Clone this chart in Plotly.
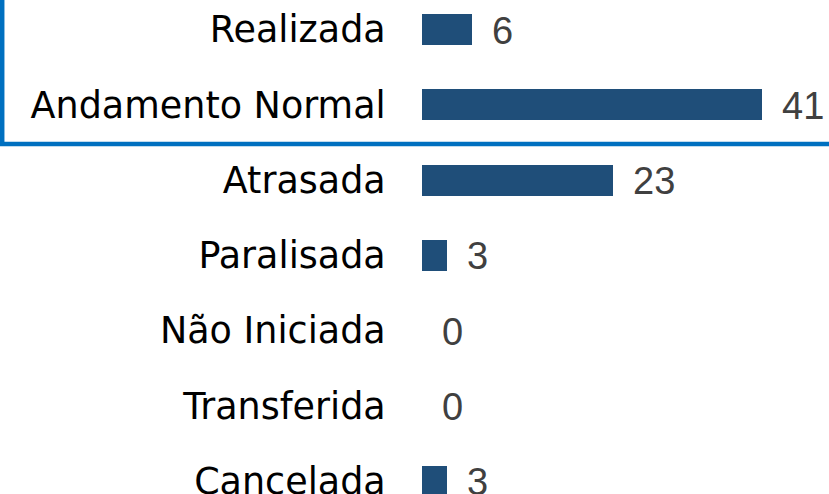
import plotly.graph_objects as go

categories = ["Realizada", "Andamento Normal", "Atrasada", "Paralisada",
              "Não Iniciada", "Transferida", "Cancelada"]
values = [6, 41, 23, 3, 0, 0, 3]

BAR_COLOR = "#1F4E79"
BORDER_COLOR = "#0070C0"

W, H = 829, 494
L = 422
plot_w = W - L
scale = 8.293  # px per unit
x_max = plot_w / scale

fig = go.Figure()
fig.add_trace(go.Bar(
    x=values, y=categories, orientation="h",
    marker=dict(color=BAR_COLOR, line=dict(width=0)),
    width=0.41, hoverinfo="skip",
))

for c, v in zip(categories, values):
    fig.add_annotation(
        x=v, y=c, xref="x", yref="y", text=str(v), showarrow=False,
        xanchor="left", yanchor="middle", xshift=18, yshift=-1,
        font=dict(family="Liberation Sans, Arial, sans-serif", size=38, color="#404040"),
    )

def px_x(px):
    return (px - L) / plot_w

def px_y(py):
    return 1 - py / H

fig.add_shape(type="line", xref="paper", yref="paper",
              x0=px_x(0), x1=px_x(W), y0=px_y(144), y1=px_y(144),
              line=dict(color=BORDER_COLOR, width=4.5))
fig.add_shape(type="line", xref="paper", yref="paper",
              x0=px_x(2.2), x1=px_x(2.2), y0=px_y(0), y1=px_y(146),
              line=dict(color=BORDER_COLOR, width=4.5))

y0 = 29.5
step = 75.3
fig.update_layout(
    width=W, height=H,
    margin=dict(l=L, r=0, t=0, b=0, pad=0),
    paper_bgcolor="white", plot_bgcolor="white",
    showlegend=False, bargap=0,
    xaxis=dict(range=[0, x_max], visible=False, fixedrange=True),
    yaxis=dict(
        categoryorder="array", categoryarray=categories,
        range=[(H - y0) / step, -y0 / step],
        showgrid=False, zeroline=False, showline=False,
        ticks="outside", ticklen=28, tickcolor="rgba(0,0,0,0)",
        automargin=False, fixedrange=True,
        tickfont=dict(family="DejaVu Sans, Verdana, sans-serif", size=36.5, color="#000000"),
    ),
)

fig.write_html(
    "out.html",
    config={"displayModeBar": False, "staticPlot": True},
    post_script="document.body.style.margin='0';document.body.style.overflow='hidden';",
)
